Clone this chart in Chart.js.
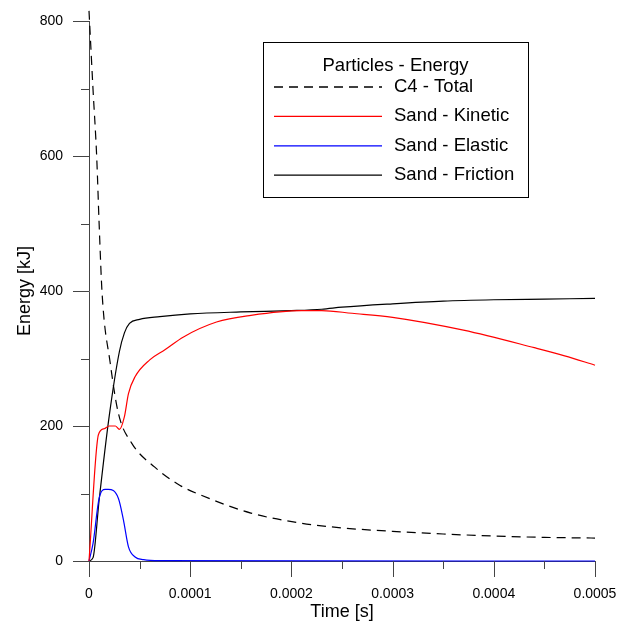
<!DOCTYPE html>
<html>
<head>
<meta charset="utf-8">
<script src="https://cdn.jsdelivr.net/npm/chart.js@4/dist/chart.umd.min.js"></script>
<style>
  html, body { margin: 0; padding: 0; background: #fff; }
  #wrap { width: 618px; height: 628px; }
</style>
</head>
<body>
<div id="wrap"><canvas id="energyChart" width="618" height="628"></canvas></div>
<script>
// time [s] / energy [kJ] for each curve
const c4Time = [0, 0.000004, 0.0000076, 0.00001, 0.000013, 0.000021, 0.000029, 0.000042, 0.000065, 0.00009, 0.00011, 0.00016, 0.00021, 0.00025, 0.0003, 0.00035, 0.0004, 0.00045, 0.0005];
const c4Total = [815, 698, 599, 500, 395, 293, 219, 175, 139, 112, 98, 71, 56, 49, 44, 40, 37, 35, 34];

const kineticTime = [0, 0.0000093, 0.000015, 0.00002, 0.000026, 0.00003, 0.000035, 0.000039, 0.0000455, 0.00006, 0.000075, 0.0000934, 0.000126, 0.00016, 0.00021, 0.00023, 0.00026, 0.0003, 0.00037, 0.00044, 0.00047, 0.0005];
const sandKinetic = [0, 187, 196, 200, 200, 195, 214, 248, 273, 298, 313, 332, 354, 364, 371, 371, 367, 361, 342, 316, 304, 290];

const elasticTime = [0, 0.000004, 0.00001, 0.000016, 0.000019, 0.000029, 0.000034, 0.000039, 0.0000455, 0.000054, 0.00007, 0.0005];
const sandElastic = [0, 26, 93, 106, 106, 93, 61, 21, 6, 2, 0.5, 0];

const frictionTime = [0, 0.000004, 0.00001, 0.00002, 0.00003, 0.000035, 0.00004, 0.00005, 0.00007, 0.0001, 0.00015, 0.0002, 0.00023, 0.00025, 0.0003, 0.00035, 0.0004, 0.00045, 0.0005];
const sandFriction = [0, 5, 90, 215, 310, 338, 352, 358, 362, 366, 369, 371, 373, 376, 381, 385, 387, 388, 389];

const seriesLabels = ["C4 - Total", "Sand - Kinetic", "Sand - Elastic", "Sand - Friction"];
const legendTitle = "Particles - Energy";

const toPoints = (xs, ys) => xs.map((x, i) => ({ x: x, y: ys[i] }));

const FONT = "'Liberation Sans', Arial, sans-serif";

// tick marks: long ones on labelled values, short ones halfway between
const tickMarks = {
  id: "tickMarks",
  afterDraw(chart) {
    const ctx = chart.ctx;
    const xs = chart.scales.x, ys = chart.scales.y;
    ctx.save();
    ctx.strokeStyle = "#444";
    ctx.lineWidth = 1;
    ctx.beginPath();
    for (let i = 0; i <= 10; i++) {
      const px = Math.round(xs.getPixelForValue(i * 0.00005)) + 0.5;
      const len = i % 2 === 0 ? 16 : 8;
      ctx.moveTo(px, ys.bottom);
      ctx.lineTo(px, ys.bottom + len);
    }
    for (let i = 0; i <= 8; i++) {
      const py = Math.round(ys.getPixelForValue(i * 100)) + 0.5;
      const len = i % 2 === 0 ? 16 : 8;
      ctx.moveTo(xs.left, py);
      ctx.lineTo(xs.left - len, py);
    }
    ctx.stroke();
    ctx.restore();
  }
};

// boxed legend inside the plot
const boxLegend = {
  id: "boxLegend",
  afterDraw(chart) {
    const ctx = chart.ctx;
    const area = chart.chartArea;
    const left = Math.round(area.left + 174), top = Math.round(area.top + 21);
    const w = 265, h = 155;
    ctx.save();
    ctx.fillStyle = "#fff";
    ctx.fillRect(left, top, w, h);
    ctx.strokeStyle = "#000";
    ctx.lineWidth = 1;
    ctx.strokeRect(left + 0.5, top + 0.5, w, h);

    ctx.fillStyle = "#000";
    ctx.font = "18.5px " + FONT;
    ctx.textBaseline = "middle";
    ctx.textAlign = "center";
    ctx.fillText(legendTitle, left + w / 2, top + 24);

    ctx.textAlign = "left";
    chart.data.datasets.forEach((ds, i) => {
      const y = top + 45 + i * 29.4;
      ctx.beginPath();
      ctx.strokeStyle = ds.borderColor;
      ctx.lineWidth = 1.3;
      ctx.setLineDash(ds.borderDash || []);
      ctx.moveTo(left + 11, y);
      ctx.lineTo(left + 119, y);
      ctx.stroke();
      ctx.setLineDash([]);
      ctx.fillText(ds.label, left + 131, y);
    });
    ctx.restore();
  }
};

const common = { pointRadius: 0, borderWidth: 1.2, fill: false, clip: false, cubicInterpolationMode: "monotone" };

new Chart(document.getElementById("energyChart"), {
  type: "line",
  data: {
    datasets: [
      Object.assign({ label: seriesLabels[0], data: toPoints(c4Time, c4Total), borderColor: "#000", borderDash: [9, 6] }, common),
      Object.assign({ label: seriesLabels[1], data: toPoints(kineticTime, sandKinetic), borderColor: "#ff0000" }, common),
      Object.assign({ label: seriesLabels[2], data: toPoints(elasticTime, sandElastic), borderColor: "#0000ff" }, common),
      Object.assign({ label: seriesLabels[3], data: toPoints(frictionTime, sandFriction), borderColor: "#000" }, common)
    ]
  },
  options: {
    responsive: false,
    animation: false,
    layout: { padding: { top: 21, right: 23, left: 0, bottom: 0 } },
    plugins: { legend: { display: false }, tooltip: { enabled: false } },
    scales: {
      x: {
        type: "linear",
        min: 0,
        max: 0.0005,
        grid: { display: false },
        border: { display: true, color: "#444", width: 1 },
        ticks: {
          stepSize: 0.0001,
          padding: 17,
          color: "#000",
          font: { family: FONT, size: 14 },
          maxRotation: 0,
          callback: v => (v === 0 ? "0" : v.toFixed(4))
        },
        title: { display: true, text: "Time [s]", color: "#000", font: { family: FONT, size: 18 }, padding: { bottom: 5 } },
        afterFit: s => { s.height = 67; s.paddingLeft = 0; s.paddingRight = 0; }
      },
      y: {
        min: 0,
        max: 800,
        grid: { display: false },
        border: { display: true, color: "#444", width: 1 },
        ticks: { stepSize: 200, padding: 18, color: "#000", font: { family: FONT, size: 14 } },
        title: { display: true, text: "Energy [kJ]", color: "#000", font: { family: FONT, size: 18 }, padding: { top: 14 } },
        afterFit: s => { s.width = 89; s.paddingTop = 0; s.paddingBottom = 0; }
      }
    }
  },
  plugins: [tickMarks, boxLegend]
});
</script>
</body>
</html>
